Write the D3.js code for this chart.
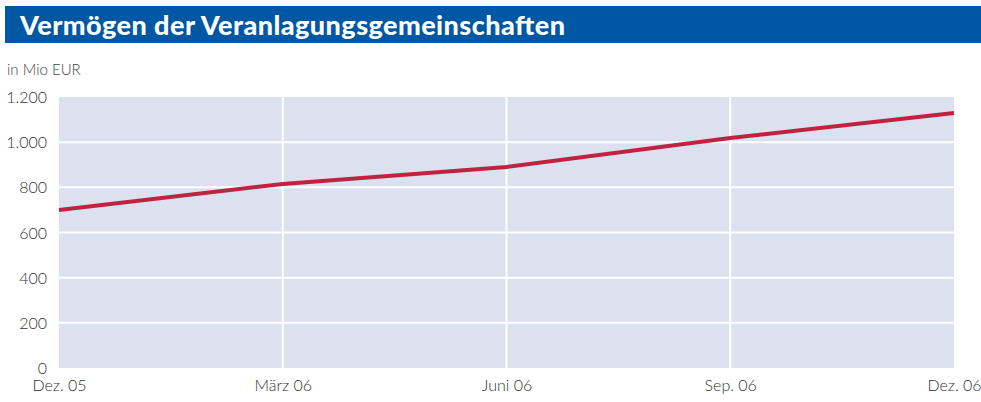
<!DOCTYPE html>
<html>
<head>
<meta charset="utf-8">
<script src="https://cdn.jsdelivr.net/npm/d3@7"></script>
<style>
  body { margin: 0; background: #fff; }
  svg { display: block; font-family: Lato, "Open Sans", sans-serif; }
</style>
</head>
<body>
<div id="chart"></div>
<script>
// data
var categories = ["Dez. 05", "März 06", "Juni 06", "Sep. 06", "Dez. 06"];
var values = [700, 815, 890, 1018, 1129];
var yTicks = [0, 200, 400, 600, 800, 1000, 1200];

var width = 981, height = 402;
var margin = { top: 97, right: 27, bottom: 34, left: 59 };

var svg = d3.select("#chart").append("svg")
    .attr("width", width)
    .attr("height", height);

// title bar
svg.append("rect")
    .attr("x", 5).attr("y", 6)
    .attr("width", width - 5).attr("height", 37)
    .style("fill", "#0057a3");
svg.append("text")
    .attr("x", 20).attr("y", 35)
    .text("Vermögen der Veranlagungsgemeinschaften")
    .attr("textLength", 545)
    .style("fill", "#fff")
    .style("font-size", "27px")
    .style("font-weight", "900");

svg.append("text")
    .attr("x", 7).attr("y", 75)
    .text("in Mio EUR")
    .style("fill", "#444")
    .style("font-size", "15px")
    .style("font-weight", "300");

var x = d3.scalePoint()
    .domain(categories)
    .range([margin.left, width - margin.right]);

var y = d3.scaleLinear()
    .domain([0, 1200])
    .range([height - margin.bottom, margin.top]);

// plot background
svg.append("rect")
    .attr("x", margin.left)
    .attr("y", y(1200))
    .attr("width", x.range()[1] - margin.left)
    .attr("height", y(0) - y(1200))
    .style("fill", "#dce1ef");

// horizontal gridlines
svg.selectAll("line.hgrid")
    .data(yTicks.filter(d => d > 0 && d < 1200))
    .enter().append("line")
    .attr("class", "hgrid")
    .attr("x1", margin.left).attr("x2", x.range()[1])
    .attr("y1", d => y(d)).attr("y2", d => y(d))
    .style("stroke", "#fff")
    .style("stroke-width", 2);

// vertical gridlines
svg.selectAll("line.vgrid")
    .data(categories.slice(1, -1))
    .enter().append("line")
    .attr("class", "vgrid")
    .attr("x1", d => x(d)).attr("x2", d => x(d))
    .attr("y1", y(1200)).attr("y2", y(0))
    .style("stroke", "#fff")
    .style("stroke-width", 2);

// y axis labels
var yAxis = svg.append("g")
    .attr("transform", "translate(" + (margin.left - 12) + ",0)")
    .call(d3.axisLeft(y).tickValues(yTicks).tickSize(0)
        .tickFormat(d => d3.format(",")(d).replace(",", ".")));
yAxis.select(".domain").remove();
yAxis.selectAll("text")
    .attr("x", 0).attr("dy", "0.35em")
    .style("font-family", "Lato, 'Open Sans', sans-serif")
    .style("font-size", "16px")
    .style("font-weight", "300")
    .style("fill", "#333");

// x axis labels
var xAxis = svg.append("g")
    .attr("transform", "translate(0," + (y(0) + 12) + ")")
    .call(d3.axisBottom(x).tickSize(0));
xAxis.select(".domain").remove();
xAxis.selectAll("text")
    .attr("y", 0).attr("dy", "0.71em")
    .style("font-family", "Lato, 'Open Sans', sans-serif")
    .style("font-size", "16px")
    .style("font-weight", "300")
    .style("fill", "#333");

// line
var line = d3.line()
    .x((d, i) => x(categories[i]))
    .y(d => y(d));

svg.append("path")
    .datum(values)
    .attr("d", line)
    .style("fill", "none")
    .style("stroke", "#c0233f")
    .style("stroke-width", 4);
</script>
</body>
</html>
